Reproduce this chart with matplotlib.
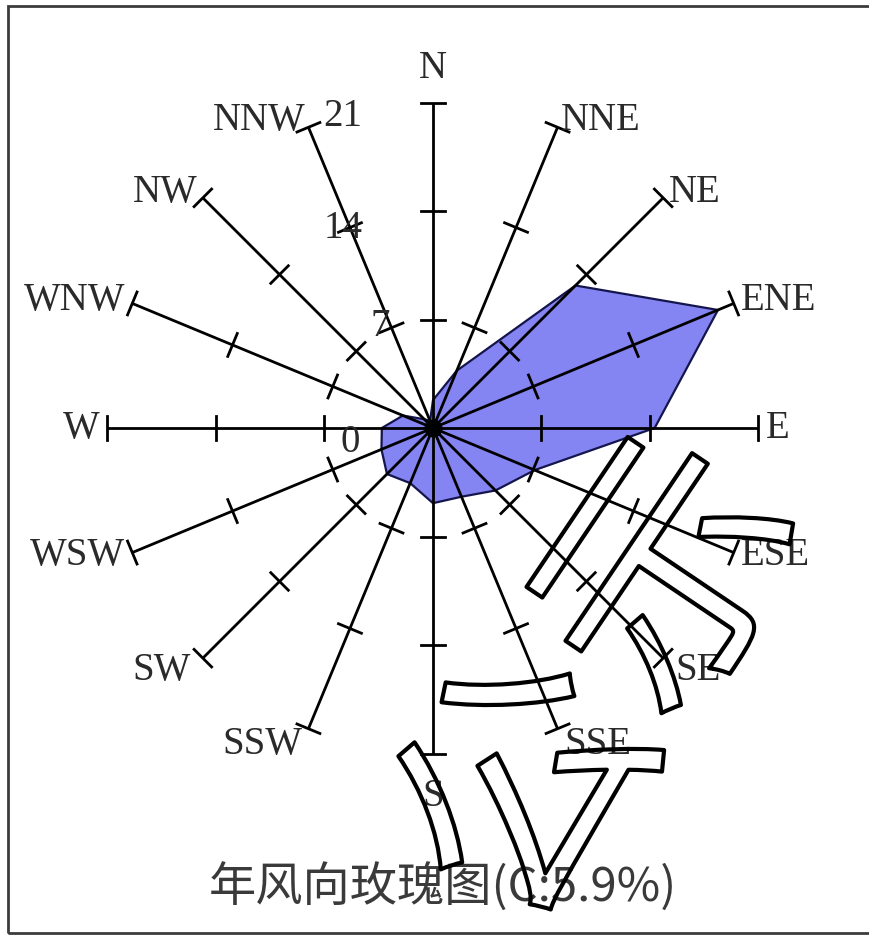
import numpy as np
import matplotlib
matplotlib.use('Agg')
import matplotlib.pyplot as plt
from matplotlib.patches import Polygon, Rectangle
import matplotlib.patheffects as pe

# 16 wind directions, clockwise from north
directions = ['N', 'NNE', 'NE', 'ENE', 'E', 'ESE', 'SE', 'SSE',
              'S', 'SSW', 'SW', 'WSW', 'W', 'WNW', 'NW', 'NNW']
# wind frequency (%) for each direction
freq = [1.8, 4.0, 13.0, 19.9, 14.3, 7.1, 5.7, 4.8,
        4.85, 3.85, 4.2, 3.6, 3.3, 2.1, 0.8, 0.5]
calm = 5.9
scale_ticks = [7, 14, 21]
scale_labels = ['0', '7', '14', '21']

# pixel layout of the sheet
W_PX, H_PX = 870, 936
CX, CY = 433, 428       # centre of the rose in pixels
PX_PER_UNIT = 15.5

fig = plt.figure(figsize=(W_PX / 100, H_PX / 100), dpi=100)
ax = fig.add_axes([0, 0, 1, 1])
ax.set_xlim(-CX / PX_PER_UNIT, (W_PX - CX) / PX_PER_UNIT)
ax.set_ylim(-(H_PX - CY) / PX_PER_UNIT, CY / PX_PER_UNIT)
ax.axis('off')

def px(dx, dy):
  # pixel offset from centre (y down) -> data units
  return dx / PX_PER_UNIT, -dy / PX_PER_UNIT

theta = np.deg2rad(np.arange(16) * 22.5)
ux, uy = np.sin(theta), np.cos(theta)
rmax = scale_ticks[-1]
half = 0.8   # half length of the tick marks

# frequency polygon
r = np.array(freq)
poly = Polygon(np.column_stack([r * ux, r * uy]), closed=True,
               facecolor='#8484f2', edgecolor='#15154d', lw=1.6, zorder=1)
ax.add_patch(poly)

# direction axes with ticks
for i in range(16):
  ax.plot([0, rmax * ux[i]], [0, rmax * uy[i]], color='black', lw=2.0,
          zorder=2, solid_capstyle='butt')
  px_, py_ = uy[i], -ux[i]
  for t in scale_ticks:
    ax.plot([t * ux[i] - half * px_, t * ux[i] + half * px_],
            [t * uy[i] - half * py_, t * uy[i] + half * py_],
            color='black', lw=2.0, zorder=2)

ax.plot(0, 0, 'o', color='black', ms=12, zorder=3)

# direction names
font = dict(family=['Liberation Serif', 'DejaVu Serif'], fontsize=28,
            color='#2a2a2a')
for i, name in enumerate(directions):
  s, c = ux[i], uy[i]
  x, y = rmax * s, rmax * c
  ha = 'left' if s > 0.1 else ('right' if s < -0.1 else 'center')
  if c > 0.99:
    va, off = 'bottom', 1.0
  elif c < -0.99:
    va, off = 'top', 1.6
  elif c < -0.5:
    va, off = 'center', 1.1
  else:
    va, off = 'center', 0.5
  ax.text(x + off * s, y + off * c, name, ha=ha, va=va, **font)

# scale numbers
label_pos = [(-83, 14), (-53, -101), (-90, -199), (-90, -311)]
for lab, (dx, dy) in zip(scale_labels, label_pos):
  x, y = px(dx, dy)
  ax.text(x, y, lab, ha='center', va='center', **font)

# title with calm frequency
tx, ty = px(443 - CX, 888 - CY)
ax.text(tx, ty, '年风向玫瑰图(C:%.1f%%)' % calm, ha='center', va='center',
        family=['Noto Sans CJK SC', 'DejaVu Sans'], fontsize=34,
        color='#3a3a3a')

# stamp text across the lower right
wx, wy = px(608 - CX, 688 - CY)
ax.text(wx, wy, '公示', ha='center', va='center', rotation=56,
        family=['Noto Sans CJK SC'], fontsize=185, color='none',
        path_effects=[pe.Stroke(linewidth=3, foreground='black')], zorder=5)

# frame
fig.patches.append(Rectangle((8 / W_PX, 3 / H_PX), 1.0, 1 - 9 / H_PX,
                             transform=fig.transFigure, fill=False,
                             edgecolor='#3c3c3c', lw=2.0))

fig.savefig('out.png', dpi=100)
